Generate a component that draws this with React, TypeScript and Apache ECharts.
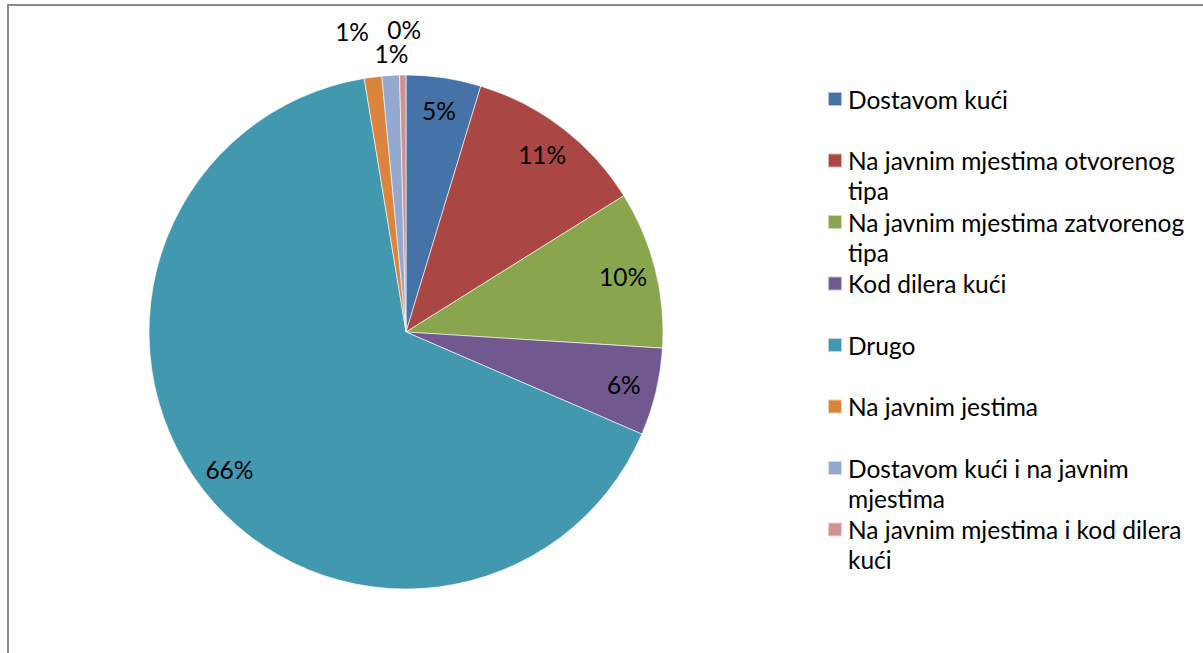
import React, { useEffect, useRef } from "react";
import * as echarts from "echarts";

const categories = [
  "Dostavom kući",
  "Na javnim mjestima otvorenog tipa",
  "Na javnim mjestima zatvorenog tipa",
  "Kod dilera kući",
  "Drugo",
  "Na javnim jestima",
  "Dostavom kući i na javnim mjestima",
  "Na javnim mjestima i kod dilera kući",
];
const legendLabels = [
  "Dostavom kući",
  "Na javnim mjestima otvorenog\ntipa",
  "Na javnim mjestima zatvorenog\ntipa",
  "Kod dilera kući",
  "Drugo",
  "Na javnim jestima",
  "Dostavom kući i na javnim\nmjestima",
  "Na javnim mjestima i kod dilera\nkući",
];
const shares = [4.7, 11.4, 9.9, 5.5, 65.9, 1.1, 1.1, 0.4];
const colors = ["#4572A7", "#AA4643", "#89A54E", "#71588F", "#4198AF", "#DB843D", "#93A9CF", "#D19392"];

const FONT = "Lato, 'Noto Sans', sans-serif";
const FS = 24.5;

export default function App() {
  const ref = useRef<HTMLDivElement>(null);
  useEffect(() => {
    if (!ref.current) return;
    const chart = echarts.init(ref.current, undefined, { renderer: "svg" });
    const R = 257;
    const smallLabel: any = {
      5: { length: 46, length2: 10 },
      6: { length: 22, length2: -7 },
      7: { length: 46, length2: -7 },
    };
    const legendText = (i: number) => {
      const t = legendLabels[i];
      return t.includes("\n") ? " \n" + t : " \n" + t + "\n ";
    };
    chart.setOption({
      animation: false,
      color: colors,
      graphic: [
        { type: "line", shape: { x1: 7, y1: 5, x2: 1203, y2: 5 }, style: { stroke: "#898989", lineWidth: 2 } },
        { type: "line", shape: { x1: 8, y1: 4, x2: 8, y2: 653 }, style: { stroke: "#898989", lineWidth: 2 } },
      ],
      legend: {
        orient: "vertical",
        left: 827,
        top: 54,
        padding: 0,
        itemWidth: 14,
        itemHeight: 14,
        itemGap: -28.5,
        icon: "rect",
        selectedMode: false,
        data: categories,
        formatter: (name: string) => legendText(categories.indexOf(name)),
        textStyle: {
          fontFamily: FONT,
          fontSize: FS,
          lineHeight: 30,
          color: "#000",
          padding: [0, 0, 0, 1],
          backgroundColor: "transparent",
        },
      },
      series: [
        {
          type: "pie",
          center: [406, 332],
          radius: [0, R],
          startAngle: 90,
          clockwise: true,
          label: { show: false },
          labelLine: { show: false },
          emphasis: { disabled: true },
          itemStyle: { borderColor: "rgba(255,255,255,0.6)", borderWidth: 1 },
          data: categories.map((name, i) => ({ name, value: shares[i] })),
        },
        {
          type: "pie",
          center: [406, 332],
          radius: [185, R],
          startAngle: 90,
          clockwise: true,
          silent: true,
          avoidLabelOverlap: false,
          emphasis: { disabled: true },
          itemStyle: { color: "rgba(0,0,0,0)", borderWidth: 0 },
          label: {
            show: true,
            position: "inside",
            formatter: (p: any) => Math.round(p.percent) + "%",
            fontFamily: FONT,
            fontSize: FS,
            color: "#000",
          },
          labelLayout: (p: any) => (p.dataIndex >= 5 ? { align: "center" } : {}),
          data: categories.map((name, i) =>
            i >= 5
              ? {
                  name,
                  value: shares[i],
                  label: { position: "outside", distanceToLabelLine: 5 },
                  labelLine: { show: false, length: smallLabel[i].length, length2: smallLabel[i].length2 },
                }
              : { name, value: shares[i] }
          ),
        },
      ],
    });
    return () => chart.dispose();
  }, []);
  return (
    <div
      ref={ref}
      style={{ position: "fixed", left: 0, top: 0, width: 1203, height: 653, background: "#fff" }}
    />
  );
}
